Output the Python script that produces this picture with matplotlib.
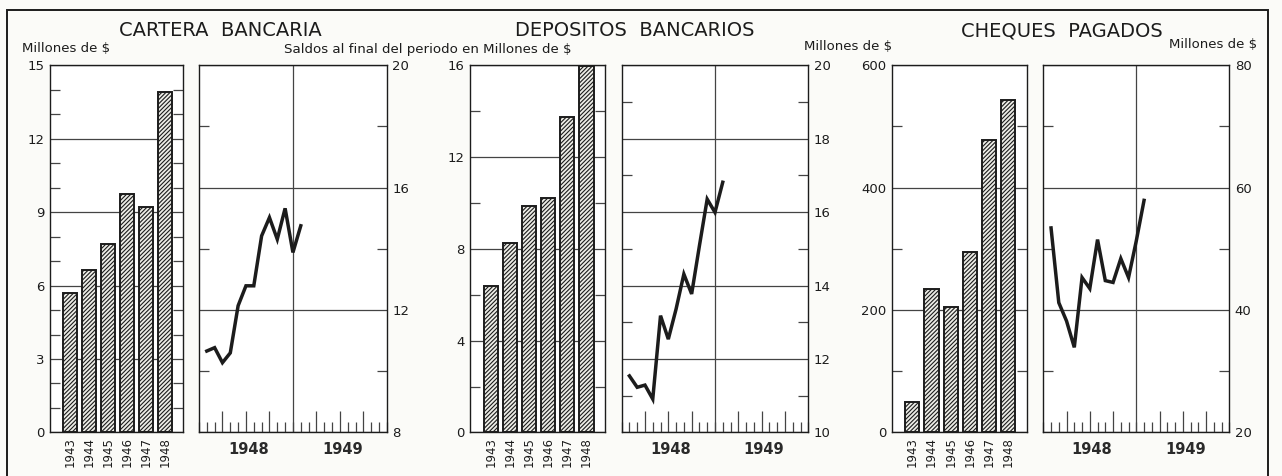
import matplotlib.pyplot as plt
from matplotlib.ticker import MultipleLocator, FixedLocator, NullFormatter
from matplotlib.patches import Rectangle

plt.rcParams['font.family'] = 'DejaVu Sans'
plt.rcParams['hatch.linewidth'] = 0.8
plt.rcParams['hatch.color'] = '#4a4a4a'

INK = '#1c1c1c'
PAPER = '#fbfbf8'

# ---- datos ----
years = ['1943', '1944', '1945', '1946', '1947', '1948']
cartera_anual = [5.7, 6.65, 7.7, 9.75, 9.2, 13.9]
depositos_anual = [6.4, 8.25, 9.85, 10.2, 13.75, 15.95]
cheques_anual = [50, 235, 205, 295, 477, 543]

# meses desde enero 1948 (1) hasta enero 1949 (13)
meses = list(range(1, 14))
cartera_mensual = [10.66, 10.77, 10.28, 10.6, 12.14, 12.79, 12.79, 14.42, 15.02, 14.31, 15.32, 13.88, 14.75]
depositos_mensual = [11.54, 11.23, 11.29, 10.91, 13.18, 12.54, 13.36, 14.31, 13.77, 15.08, 16.35, 15.99, 16.81]
cheques_mensual = [53.4, 41.2, 38.2, 33.9, 45.3, 43.5, 51.5, 44.8, 44.5, 48.4, 45.3, 51.3, 57.9]

fig = plt.figure(figsize=(12.82, 4.76), dpi=100, facecolor=PAPER)

BOTTOM = 0.0914
HEIGHT = 0.772


def style_frame(ax):
    ax.set_facecolor('white')
    for s in ax.spines.values():
        s.set_linewidth(1.0)
        s.set_color(INK)


def bar_panel(left, width, values, ymax, major, minor):
    ax = fig.add_axes([left, BOTTOM, width, HEIGHT])
    style_frame(ax)
    x = list(range(len(years)))
    ax.bar(x, values, width=0.74, facecolor='#ececE6', edgecolor=INK,
           linewidth=1.4, hatch='////////', zorder=3)
    ax.set_xlim(-1.08, 5.96)
    ax.set_ylim(0, ymax)
    ax.yaxis.set_major_locator(MultipleLocator(major))
    ax.yaxis.set_minor_locator(MultipleLocator(minor))
    ax.grid(axis='y', which='major', color='#444444', linewidth=0.9, zorder=1)
    ax.tick_params(axis='y', which='major', length=0, pad=4, labelsize=9.5, colors=INK)
    ax.tick_params(axis='y', which='minor', direction='in', length=7, width=0.9,
                   left=True, right=True, color='#444444')
    ax.set_xticks(x)
    ax.set_xticklabels(years, rotation=90, fontsize=8.5, color=INK)
    ax.tick_params(axis='x', length=0, pad=3)
    return ax


def line_panel(left, width, values, ylo, yhi, major, minor):
    ax = fig.add_axes([left, BOTTOM, width, HEIGHT])
    style_frame(ax)
    ax.plot(meses, values, color=INK, linewidth=2.5, solid_joinstyle='miter', zorder=4)
    ax.set_xlim(0, 24)
    ax.set_ylim(ylo, yhi)
    ax.axvline(12, color='#444444', linewidth=0.9, zorder=1)
    ax.yaxis.tick_right()
    ax.yaxis.set_major_locator(MultipleLocator(major))
    ax.yaxis.set_minor_locator(MultipleLocator(minor))
    ax.grid(axis='y', which='major', color='#444444', linewidth=0.9, zorder=1)
    ax.tick_params(axis='y', which='major', length=0, pad=4, labelsize=9.5, colors=INK)
    ax.tick_params(axis='y', which='minor', direction='in', length=7, width=0.9,
                   left=True, right=True, color='#444444')
    ax.xaxis.set_major_locator(FixedLocator([3, 6, 9, 15, 18, 21]))
    ax.xaxis.set_minor_locator(MultipleLocator(1))
    ax.xaxis.set_major_formatter(NullFormatter())
    ax.tick_params(axis='x', which='major', direction='in', length=15, width=0.9, color='#444444')
    ax.tick_params(axis='x', which='minor', direction='in', length=7, width=0.9, color='#444444')
    ax.text(6.3, -0.045, '1948', transform=ax.get_xaxis_transform(), ha='center', va='center',
            fontsize=10.5, fontweight='bold', color='#2a2a2a')
    ax.text(18.3, -0.045, '1949', transform=ax.get_xaxis_transform(), ha='center', va='center',
            fontsize=10.5, fontweight='bold', color='#2a2a2a')
    return ax


bar_panel(0.0390, 0.1037, cartera_anual, 15, 3, 1)
line_panel(0.1552, 0.1466, cartera_mensual, 8, 20, 4, 2)
bar_panel(0.3666, 0.1053, depositos_anual, 16, 4, 2)
line_panel(0.4849, 0.1456, depositos_mensual, 10, 20, 2, 1)
bar_panel(0.6955, 0.1053, cheques_anual, 600, 200, 100)
line_panel(0.8138, 0.1451, cheques_mensual, 20, 80, 20, 10)

# titulos
W, H = 1282.0, 476.0
for xc, txt in [(220, 'CARTERA  BANCARIA'), (635, 'DEPOSITOS  BANCARIOS'), (1062, 'CHEQUES  PAGADOS')]:
    fig.text(xc / W, 1 - 31 / H, txt, ha='center', va='center', fontsize=14, color=INK)

fig.text(22 / W, 1 - 49 / H, 'Millones de $', ha='left', va='center', fontsize=9.5, color=INK)
fig.text(428 / W, 1 - 49 / H, 'Saldos al final del periodo en Millones de $', ha='center',
         va='center', fontsize=9.6, color=INK)
fig.text(848 / W, 1 - 47 / H, 'Millones de $', ha='center', va='center', fontsize=9.5, color=INK)
fig.text(1257 / W, 1 - 45 / H, 'Millones de $', ha='right', va='center', fontsize=9.5, color=INK)

# marco exterior
fig.patches.append(Rectangle((7 / W, -0.05), (1268 - 7) / W, 1 - 10 / H + 0.05,
                             transform=fig.transFigure, fill=False, edgecolor=INK,
                             linewidth=1.4))

fig.savefig('out.png', dpi=100, facecolor=PAPER)
